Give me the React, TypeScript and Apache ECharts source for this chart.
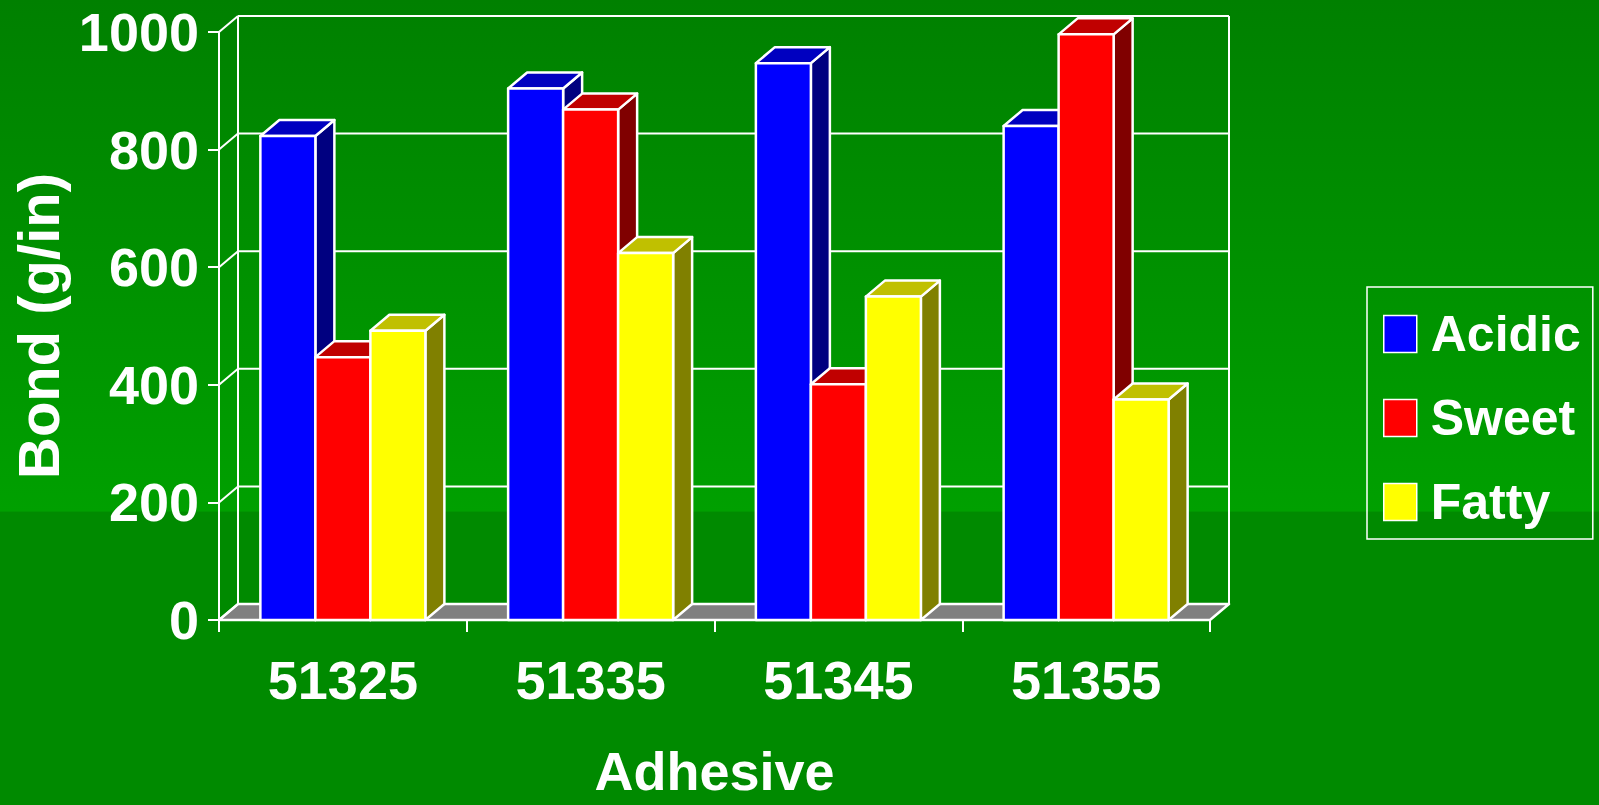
import React, { useEffect, useRef } from 'react';
import * as echarts from 'echarts';

// Bond strength per adhesive, for three food simulants
const adhesives = ['51325', '51335', '51345', '51355'];
const acidic = [823, 904, 947, 840];
const sweet = [447, 868, 401, 996];
const fatty = [492, 624, 550, 375];
const seriesNames = ['Acidic', 'Sweet', 'Fatty'];
const yTicks = [0, 200, 400, 600, 800, 1000];

const FONT = '"Liberation Sans", Arial, sans-serif';
const DX = 19; // depth offset of the 3D box
const DY = -16;
const BAR_FRACTION = 0.222;
const EDGE = { stroke: '#ffffff', lineWidth: 2.5, lineJoin: 'round' as const };

const palettes = [
  { front: '#0000ff', top: '#0000c0', side: '#000080' },
  { front: '#ff0000', top: '#c00000', side: '#800000' },
  { front: '#ffff00', top: '#c0c000', side: '#808000' },
];
const values = [acidic, sweet, fatty];

function barRenderer(slot: number) {
  const pal = palettes[slot];
  return (params: any, api: any) => {
    const cat = api.value(0);
    const val = api.value(1);
    const topPt = api.coord([cat, val]);
    const basePt = api.coord([cat, 0]);
    const band = api.size([1, 0])[0];
    const w = band * BAR_FRACTION;
    const x0 = topPt[0] + (slot - 1) * w - w / 2;
    const x1 = x0 + w;
    const yt = topPt[1];
    const yb = basePt[1];
    return {
      type: 'group',
      children: [
        {
          type: 'polygon',
          shape: { points: [[x1, yt], [x1 + DX, yt + DY], [x1 + DX, yb + DY], [x1, yb]] },
          style: { fill: pal.side, ...EDGE },
        },
        {
          type: 'polygon',
          shape: { points: [[x0, yt], [x0 + DX, yt + DY], [x1 + DX, yt + DY], [x1, yt]] },
          style: { fill: pal.top, ...EDGE },
        },
        {
          type: 'rect',
          shape: { x: x0, y: yt, width: w, height: yb - yt },
          style: { fill: pal.front, ...EDGE },
        },
      ],
    };
  };
}

// Back wall grid lines, side-wall diagonals and the grey floor
function wallRenderer(params: any, api: any) {
  const v = api.value(1);
  const cs = params.coordSys;
  const left = cs.x;
  const right = cs.x + cs.width;
  const y = api.coord([0, v])[1];
  const line = { stroke: '#ffffff', lineWidth: 2 };
  const children: any[] = [];
  if (v === 0) {
    children.push({
      type: 'polygon',
      shape: { points: [[left, y], [right, y], [right + DX, y + DY], [left + DX, y + DY]] },
      style: { fill: '#808080', ...EDGE },
    });
    children.push({
      type: 'line',
      shape: { x1: left + DX, y1: y + DY, x2: left + DX, y2: cs.y + DY },
      style: line,
    });
    children.push({
      type: 'line',
      shape: { x1: right + DX, y1: y + DY, x2: right + DX, y2: cs.y + DY },
      style: line,
    });
  }
  children.push({
    type: 'line',
    shape: { x1: left, y1: y, x2: left + DX, y2: y + DY },
    style: line,
  });
  children.push({
    type: 'line',
    shape: { x1: left + DX, y1: y + DY, x2: right + DX, y2: y + DY },
    style: line,
  });
  return { type: 'group', children };
}

export default function App() {
  const ref = useRef<HTMLDivElement>(null);

  useEffect(() => {
    if (!ref.current) return;
    const chart = echarts.init(ref.current, null, { renderer: 'svg' });
    const labelFont = { color: '#ffffff', fontWeight: 'bold' as const, fontFamily: FONT, fontSize: 54 };

    chart.setOption({
      animation: false,
      backgroundColor: new echarts.graphic.LinearGradient(0, 0, 0, 1, [
        { offset: 0, color: '#008000' },
        { offset: 0.635, color: '#00a000' },
        { offset: 0.636, color: '#008a00' },
        { offset: 1, color: '#008a00' },
      ]),
      grid: {
        left: 219,
        right: 389,
        top: 32,
        bottom: 185,
        containLabel: false,
        outerBoundsMode: 'none',
      },
      legend: {
        data: seriesNames,
        orient: 'vertical',
        left: 1367,
        top: 287,
        padding: [22, 12, 12, 16],
        itemWidth: 33,
        itemHeight: 37,
        itemGap: 34,
        icon: 'rect',
        borderColor: '#ffffff',
        borderWidth: 1.5,
        itemStyle: { borderColor: '#ffffff', borderWidth: 1.5 },
        textStyle: { ...labelFont, fontSize: 50, padding: [0, 0, 0, 9] },
      },
      xAxis: {
        type: 'category',
        data: adhesives,
        name: 'Adhesive',
        nameLocation: 'middle',
        nameGap: 124,
        nameTextStyle: { ...labelFont },
        axisLine: { show: true, lineStyle: { color: '#ffffff', width: 2 } },
        axisTick: { show: true, length: 12, lineStyle: { color: '#ffffff', width: 2 } },
        axisLabel: { ...labelFont, margin: 33 },
        splitLine: { show: false },
      },
      yAxis: {
        type: 'value',
        min: 0,
        max: 1000,
        interval: 200,
        name: 'Bond (g/in)',
        nameLocation: 'middle',
        nameGap: 139,
        nameTextStyle: { ...labelFont, fontSize: 58 },
        axisLine: { show: true, lineStyle: { color: '#ffffff', width: 2 } },
        axisTick: { show: true, length: 11, lineStyle: { color: '#ffffff', width: 2 } },
        axisLabel: { ...labelFont, margin: 20, formatter: (v: number) => String(v) },
        splitLine: { show: false },
      },
      series: [
        {
          type: 'custom',
          name: 'walls',
          z: 1,
          clip: false,
          silent: true,
          renderItem: wallRenderer,
          encode: { x: 0, y: 1 },
          data: yTicks.map((v) => [0, v]),
        },
        ...seriesNames.map((name, s) => ({
          type: 'custom',
          name,
          z: 2 + s,
          clip: false,
          itemStyle: { color: palettes[s].front },
          renderItem: barRenderer(s),
          encode: { x: 0, y: 1 },
          data: adhesives.map((_, i) => [i, values[s][i]]),
        })),
      ],
    });

    return () => chart.dispose();
  }, []);

  return (
    <div
      ref={ref}
      style={{ position: 'fixed', left: 0, top: 0, width: 1599, height: 805 }}
    />
  );
}
